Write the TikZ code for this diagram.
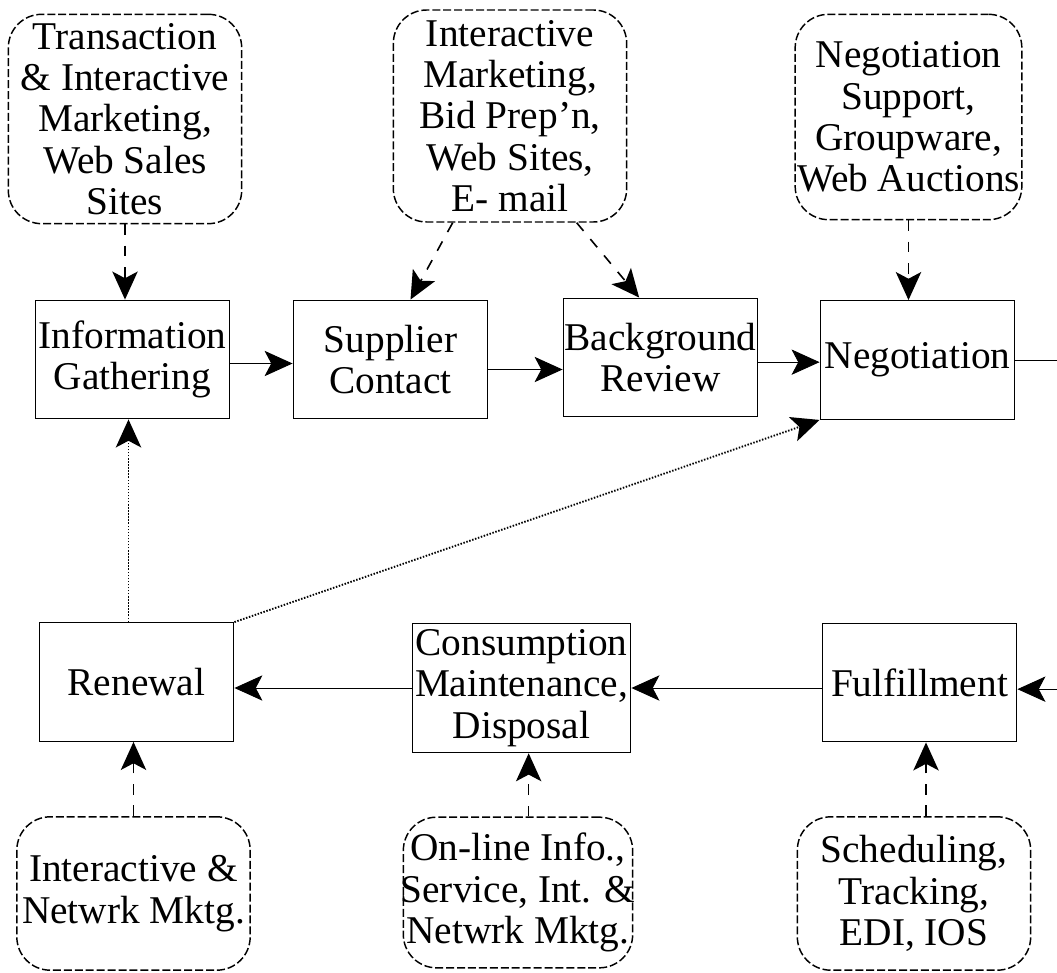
\documentclass[tikz,border=0pt]{standalone}
\usepackage{fontspec}
\setmainfont{Liberation Serif}
\usetikzlibrary{arrows.meta,positioning}

\begin{document}
\begin{tikzpicture}[x=0.75pt,y=-0.75pt,
  every node/.style={font=\fontsize{29.5}{31}\selectfont,align=center,inner xsep=-30pt,inner ysep=-30pt},
  stage node/.style={draw,line width=0.9pt,minimum width=146pt,minimum height=89pt},
  tool node/.style={draw,line width=1.1pt,dash pattern=on 6pt off 2.2pt,rounded corners=25pt,minimum width=175pt},
  flow/.style={line width=0.7pt,-{Stealth[length=21pt,width=19pt,inset=5pt]}},
  tool link/.style={line width=1.2pt,dash pattern=on 8pt off 8pt,-{Stealth[length=21pt,width=19pt,inset=5pt]}},
  back link/.style={line width=1.4pt,dash pattern=on 1.1pt off 1.2pt,-{Stealth[length=21pt,width=19pt,inset=5pt]}}]
\useasboundingbox (0,0) rectangle (1057,973);
% process stages
\begin{scope}
\node[stage node] (info) at (132.5,359.5) {Information\\Gathering};
\node[stage node] (supp) at (390.5,359.5) {Supplier\\Contact};
\node[stage node] (back) at (660.5,357.5) {Background\\Review};
\node[stage node] (nego) at (917.5,360) {Negotiation};
\node[stage node] (renew) at (136.5,682) {Renewal};
\node[stage node,minimum width=164pt,minimum height=97pt] (cons) at (521.5,688) {Consumption\\Maintenance,\\Disposal};
\node[stage node] (fulf) at (919.5,682.5) {Fulfillment};
\end{scope}
% supporting tools
\begin{scope}
\node[tool node,minimum height=157pt] (t1) at (125,119) {Transaction\\\& Interactive\\Marketing,\\Web Sales\\Sites};
\node[tool node,minimum height=159pt] (t2) at (510,116) {Interactive\\Marketing,\\Bid Prep'n,\\Web Sites,\\E- mail};
\node[tool node,minimum width=170pt,minimum height=154pt] (t3) at (908.5,117) {Negotiation\\Support,\\Groupware,\\Web Auctions};
\node[tool node,minimum height=115pt] (b1) at (133.5,893.5) {Interactive \&\\Netwrk Mktg.};
\node[tool node,minimum width=172pt,minimum height=113pt] (b2) at (518,892.5) {On-line Info.,\\Service, Int. \&\\Netwrk Mktg.};
\node[tool node,minimum height=115pt] (b3) at (914,893.5) {Scheduling,\\Tracking,\\EDI, IOS};
\end{scope}
\coordinate (rim) at (1057,0);
\coordinate (gx) at ([xshift=-3pt]info.south);
\coordinate (cx) at ([xshift=8pt]b2.north);
\coordinate (fx) at ([xshift=9pt]b3.north);
% main cycle
\draw[flow] ([yshift=-3pt]info.east) -- ([yshift=-3pt]info.east -| supp.west);
\draw[flow] ([yshift=-7.5pt]supp.east) -- ([yshift=-7.5pt]supp.east -| back.west);
\draw[flow] ([yshift=-3.5pt]back.east) -- ([yshift=-3.5pt]back.east -| nego.west);
\draw[line width=0.7pt] (nego.east) -- (nego.east -| rim);
\draw[flow] ([yshift=-5pt]fulf.east -| rim) -- ([yshift=-5pt]fulf.east);
\draw[flow] (fulf.west |- cons.east) -- (cons.east);
\draw[flow] (cons.west) -- (cons.west -| renew.east);
% tool support
\draw[tool link] (t1.south) -- (t1.south |- info.north);
\draw[tool link] ([xshift=-43pt]t2.south) -- ([xshift=15pt]supp.north);
\draw[tool link] ([xshift=50pt]t2.south) -- ([xshift=-16pt]back.north);
\draw[tool link] (t3.south) -- (t3.south |- nego.north);
\draw[tool link] (b1.north) -- (b1.north |- renew.south);
\draw[tool link] (cx) -- (cx |- cons.south);
\draw[tool link] (fx) -- (fx |- fulf.south);
% renewal loops
\draw[back link] (gx |- renew.north) -- (gx);
\draw[back link] (renew.north east) -- (nego.south west);
\end{tikzpicture}
\end{document}
